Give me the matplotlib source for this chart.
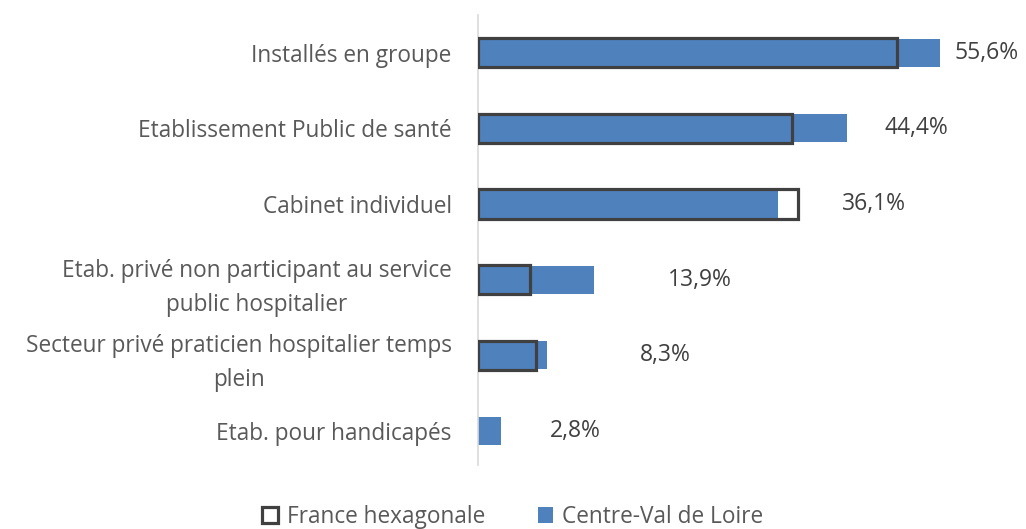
import numpy as np
import matplotlib.pyplot as plt

plt.rcParams['font.family'] = ['Open Sans', 'DejaVu Sans']

categories = ['Installés en groupe',
              'Etablissement Public de santé',
              'Cabinet individuel',
              'Etab. privé non participant au service\npublic hospitalier',
              'Secteur privé praticien hospitalier temps\nplein',
              'Etab. pour handicapés']
centre_vdl = [55.6, 44.4, 36.1, 13.9, 8.3, 2.8]
france = [50.5, 37.8, 38.5, 6.3, 7.0, np.nan]
value_labels = ['55,6%', '44,4%', '36,1%', '13,9%', '8,3%', '2,8%']
label_x = [57.4, 48.9, 43.8, 22.9, 19.5, 8.7]

blue = '#4F81BD'
dark = '#404040'
txt = '#595959'

fig = plt.figure(figsize=(10.26, 5.29), dpi=100)
ax = fig.add_axes([0.466, 0.121, 0.526, 0.851])

y = np.arange(len(categories))
ax.barh(y, centre_vdl, height=0.37, color=blue, label='Centre-Val de Loire', zorder=2)
ax.barh(y, france, height=0.39, facecolor='none', edgecolor=dark, linewidth=2.3,
        label='France hexagonale', zorder=3)

for yi, xi, lab in zip(y, label_x, value_labels):
    ax.text(xi, yi, lab, ha='left', va='center', fontsize=16.5, color=dark)

ax.set_xlim(0, 65)
ax.set_ylim(len(categories) - 0.55, -0.5)
ax.set_yticks(y)
ax.set_yticklabels(categories, fontsize=16.3, color=txt, multialignment='center',
                   linespacing=1.55)
ax.tick_params(axis='y', length=0, pad=19)
ax.set_xticks([])
for s in ['top', 'right', 'bottom']:
    ax.spines[s].set_visible(False)
ax.spines['left'].set_color('#D9D9D9')
ax.spines['left'].set_linewidth(1.2)

handles, labels = ax.get_legend_handles_labels()
fig.legend(handles[::-1], labels[::-1], loc='lower center', ncol=2, frameon=False,
           bbox_to_anchor=(0.5, -0.038), fontsize=16.3, labelcolor=txt,
           handlelength=0.7, handleheight=0.7, handletextpad=0.4, columnspacing=2.3)

fig.savefig('out.png', dpi=100)
